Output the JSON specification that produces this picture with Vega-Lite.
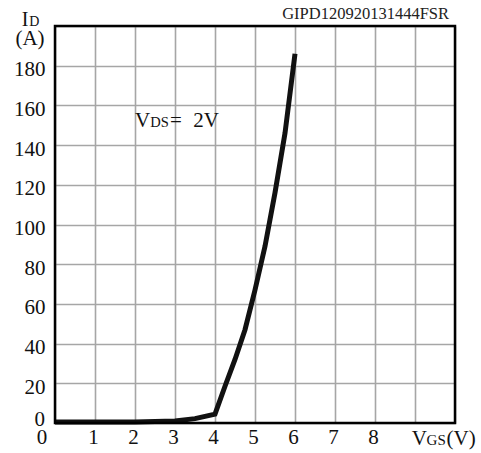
{
  "$schema": "https://vega.github.io/schema/vega-lite/v6.json",
  "width": 400,
  "height": 397,
  "autosize": "none",
  "padding": {"left": 55, "top": 26, "right": 26, "bottom": 30},
  "background": "white",
  "config": {
    "view": {"stroke": null},
    "text": {"font": "Liberation Serif", "color": "#111", "align": "left", "baseline": "alphabetic", "fontWeight": "normal"},
    "axis": {
      "domain": false,
      "ticks": false,
      "tickSize": 0,
      "labelFont": "Liberation Serif",
      "labelFontSize": 21,
      "labelColor": "#111",
      "labelFlush": false,
      "labelOverlap": false,
      "grid": true,
      "gridColor": "#a6a6a6",
      "gridWidth": 1.6,
      "titleOpacity": 0
    },
    "axisX": {
      "tickCount": 10,
      "labelExpr": "datum.value >= 1 && datum.value <= 8 ? datum.label : ''",
      "labelPadding": 3,
      "labelOffset": -2
    },
    "axisY": {
      "tickCount": 10,
      "labelExpr": "datum.value >= 20 && datum.value <= 180 ? datum.label : ''",
      "labelPadding": 10,
      "labelBaseline": "middle",
      "labelOffset": 4
    }
  },
  "layer": [
    {
      "data": {
        "values": [
          {"vgs": 0, "id": 0.5},
          {"vgs": 1, "id": 0.5},
          {"vgs": 2, "id": 0.5},
          {"vgs": 3, "id": 1},
          {"vgs": 3.5, "id": 2.2},
          {"vgs": 4, "id": 4.5},
          {"vgs": 4.25, "id": 18.5},
          {"vgs": 4.5, "id": 32},
          {"vgs": 4.75, "id": 47},
          {"vgs": 5, "id": 67},
          {"vgs": 5.25, "id": 89},
          {"vgs": 5.5, "id": 116},
          {"vgs": 5.75, "id": 146},
          {"vgs": 6, "id": 186}
        ]
      },
      "mark": {"type": "line", "color": "#111", "strokeWidth": 5, "clip": false},
      "encoding": {
        "x": {"field": "vgs", "type": "quantitative", "title": null, "scale": {"domain": [0, 10], "nice": false, "zero": false}},
        "y": {"field": "id", "type": "quantitative", "title": null, "scale": {"domain": [0, 200], "nice": false, "zero": false}}
      }
    },
    {
      "data": {"values": [{}]},
      "mark": {"type": "rect", "fill": null, "fillOpacity": 0, "stroke": "#000", "strokeWidth": 2.5},
      "encoding": {
        "x": {"datum": 0, "type": "quantitative"}, "x2": {"datum": 10},
        "y": {"datum": 0, "type": "quantitative"}, "y2": {"datum": 200}
      }
    },
    {
      "data": {"values": [{}]},
      "mark": {"type": "text", "text": "0", "fontSize": 21, "align": "center"},
      "encoding": {"x": {"datum": -0.325, "type": "quantitative"}, "y": {"datum": -10.4, "type": "quantitative"}}
    },
    {
      "data": {"values": [{}]},
      "mark": {"type": "text", "text": "0", "fontSize": 21, "align": "right"},
      "encoding": {"x": {"datum": -0.25, "type": "quantitative"}, "y": {"datum": -1.5, "type": "quantitative"}}
    },
    {
      "data": {"values": [{}]},
      "mark": {"type": "text", "text": "GIPD120920131444FSR", "fontSize": 16.5, "align": "right", "color": "#222"},
      "encoding": {"x": {"datum": 9.85, "type": "quantitative"}, "y": {"datum": 203.7, "type": "quantitative"}}
    },
    {
      "data": {"values": [{}]},
      "mark": {"type": "text", "text": "I", "fontSize": 20},
      "encoding": {"x": {"datum": -0.833, "type": "quantitative"}, "y": {"datum": 200.2, "type": "quantitative"}}
    },
    {
      "data": {"values": [{}]},
      "mark": {"type": "text", "text": "D", "fontSize": 14},
      "encoding": {"x": {"datum": -0.643, "type": "quantitative"}, "y": {"datum": 200.2, "type": "quantitative"}}
    },
    {
      "data": {"values": [{}]},
      "mark": {"type": "text", "text": "(A)", "fontSize": 21, "align": "center"},
      "encoding": {"x": {"datum": -0.625, "type": "quantitative"}, "y": {"datum": 190.6, "type": "quantitative"}}
    },
    {
      "data": {"values": [{}]},
      "mark": {"type": "text", "text": "V", "fontSize": 21},
      "encoding": {"x": {"datum": 2.0, "type": "quantitative"}, "y": {"datum": 149.1, "type": "quantitative"}}
    },
    {
      "data": {"values": [{}]},
      "mark": {"type": "text", "text": "DS", "fontSize": 14.5},
      "encoding": {"x": {"datum": 2.383, "type": "quantitative"}, "y": {"datum": 149.1, "type": "quantitative"}}
    },
    {
      "data": {"values": [{}]},
      "mark": {"type": "text", "text": "=", "fontSize": 21},
      "encoding": {"x": {"datum": 2.875, "type": "quantitative"}, "y": {"datum": 149.1, "type": "quantitative"}}
    },
    {
      "data": {"values": [{}]},
      "mark": {"type": "text", "text": "2V", "fontSize": 21},
      "encoding": {"x": {"datum": 3.458, "type": "quantitative"}, "y": {"datum": 149.1, "type": "quantitative"}}
    },
    {
      "data": {"values": [{}]},
      "mark": {"type": "text", "text": "V", "fontSize": 21},
      "encoding": {"x": {"datum": 8.918, "type": "quantitative"}, "y": {"datum": -11.1, "type": "quantitative"}}
    },
    {
      "data": {"values": [{}]},
      "mark": {"type": "text", "text": "GS", "fontSize": 15},
      "encoding": {"x": {"datum": 9.29, "type": "quantitative"}, "y": {"datum": -11.1, "type": "quantitative"}}
    },
    {
      "data": {"values": [{}]},
      "mark": {"type": "text", "text": "(V)", "fontSize": 21},
      "encoding": {"x": {"datum": 9.79, "type": "quantitative"}, "y": {"datum": -11.1, "type": "quantitative"}}
    }
  ]
}
